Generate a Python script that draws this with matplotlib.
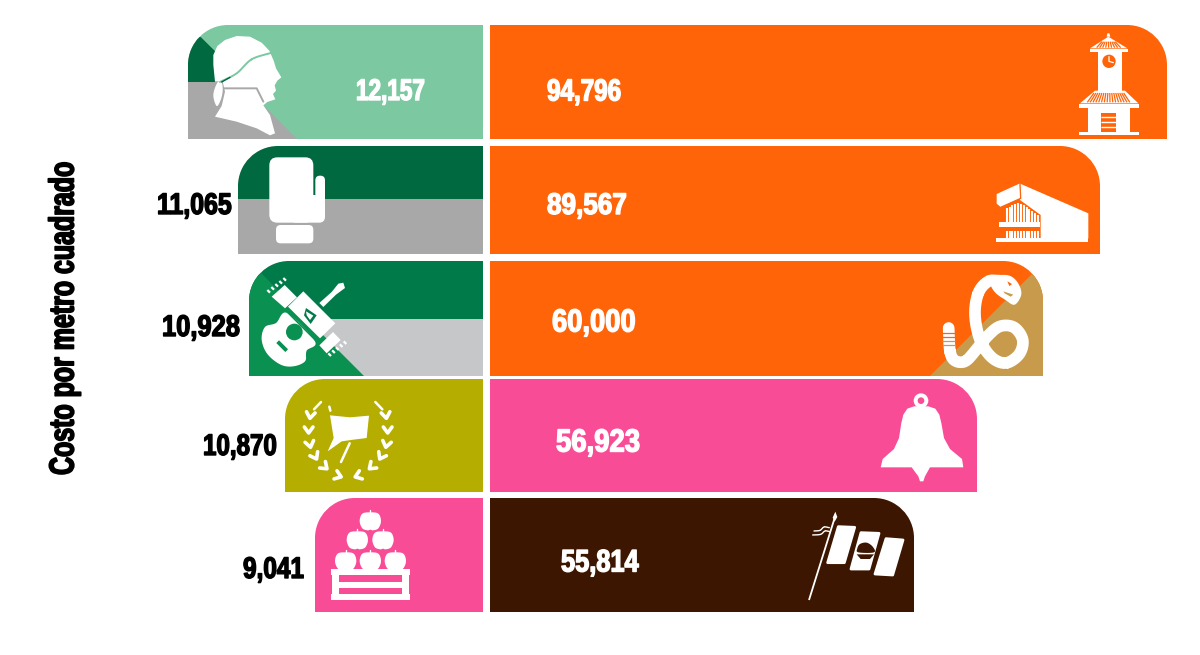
import numpy as np
import matplotlib
matplotlib.use("Agg")
import matplotlib.pyplot as plt
import matplotlib.patheffects as pe
from matplotlib.patches import Polygon, Circle, PathPatch, FancyBboxPatch
from matplotlib.path import Path
from matplotlib.transforms import Affine2D

# Values shown on each side of the infographic
left_values = [12157, 11065, 10928, 10870, 9041]
right_values = [94796, 89567, 60000, 56923, 55814]
axis_title = "Costo por metro cuadrado"

# Colours
GREEN_LIGHT = "#7BC8A1"
GREEN_DARK = "#00693F"
GREEN_MID = "#007A49"
GREEN_BRIGHT = "#0A9050"
GRAY = "#A8A8A8"
GRAY_LIGHT = "#C6C7C9"
OLIVE = "#B5AE00"
PINK = "#F94C96"
ORANGE = "#FF6408"
TAN = "#C89B4C"
BROWN = "#3C1600"
left_colors = [GREEN_LIGHT, GREEN_DARK, GREEN_MID, OLIVE, PINK]
right_colors = [ORANGE, ORANGE, ORANGE, PINK, BROWN]

# Layout: row centres and heights, and the compressed value scales of both sides
row_centers = [82, 200, 318.5, 435.5, 555]
row_heights = [114, 108, 115, 113, 114]
left_scale_values = [0, 9041, 10870, 10928, 11065, 12157, 20000]
left_scale_px = [0, 168, 198, 234, 245, 295, 483]
right_scale_values = [0, 55814, 56923, 60000, 89567, 94796, 120000]
right_scale_px = [0, 424, 487, 553, 610, 677, 710]

W, H = 1200, 655
fig = plt.figure(figsize=(W / 100, H / 100), dpi=100, facecolor="white")


def side_axes(x0, x1, knots_v, knots_p):
    ax = fig.add_axes([x0 / W, 0, (x1 - x0) / W, 1], zorder=0)
    ax.set_xscale("function", functions=(
        lambda v: np.interp(v, knots_v, knots_p),
        lambda p: np.interp(p, knots_p, knots_v)))
    ax.set_ylim(H, 0)
    ax.axis("off")
    return ax


ax_left = side_axes(0, 483, left_scale_values, left_scale_px)
ax_right = side_axes(490, 1200, right_scale_values, right_scale_px)
left_bars = ax_left.barh(row_centers, left_values, height=row_heights, color=left_colors, lw=0)
right_bars = ax_right.barh(row_centers, right_values, height=row_heights, color=right_colors, lw=0)
ax_left.set_xlim(left_scale_values[-1], 0)
ax_right.set_xlim(0, right_scale_values[-1])

# Full-figure layer addressed in pixels for shapes, icons and labels
px = fig.add_axes([0, 0, 1, 1], zorder=1)
px.set_xlim(0, W)
px.set_ylim(H, 0)
px.axis("off")
px.patch.set_alpha(0)


def rounded_shape(bar, side, r=40):
    """Bar outline with its outer top corner rounded, in pixel units."""
    bb = bar.get_window_extent()
    x0, x1 = bb.x0, bb.x1
    top, bot = H - bb.y1, H - bb.y0
    k = 0.5523 * r
    if side == "left":
        verts = [(x1, top), (x1, bot), (x0, bot), (x0, top + r),
                 (x0, top + r - k), (x0 + r - k, top), (x0 + r, top), (x1, top), (x1, top)]
    else:
        verts = [(x0, top), (x0, bot), (x1, bot), (x1, top + r),
                 (x1, top + r - k), (x1 - r + k, top), (x1 - r, top), (x0, top), (x0, top)]
    codes = [Path.MOVETO, Path.LINETO, Path.LINETO, Path.LINETO,
             Path.CURVE4, Path.CURVE4, Path.CURVE4, Path.LINETO, Path.CLOSEPOLY]
    return PathPatch(Path(verts, codes), transform=px.transData, fc="none", ec="none")


left_clips, right_clips = [], []
for b in left_bars:
    c = rounded_shape(b, "left")
    b.set_clip_path(c)
    left_clips.append(c)
for b in right_bars:
    c = rounded_shape(b, "right")
    b.set_clip_path(c)
    right_clips.append(c)


def band(pts, color, clip):
    p = Polygon(pts, closed=True, fc=color, ec="none", zorder=1)
    px.add_patch(p)
    p.set_clip_path(clip)


# Colour panels behind the icons
band([(180, 82), (240, 82), (298, 140), (180, 140)], GRAY, left_clips[0])
band([(180, 30), (200.7, 37), (225, 61), (225, 82), (180, 82)], GREEN_DARK, left_clips[0])
band([(230, 199), (490, 199), (490, 260), (230, 260)], GRAY, left_clips[1])
band([(240, 319), (490, 319), (490, 380), (240, 380)], GRAY_LIGHT, left_clips[2])
band([(240, 252), (367, 379), (240, 379)], GREEN_BRIGHT, left_clips[2])
band([(1050, 256), (1050, 380), (926, 380)], TAN, right_clips[2])


def zoomed(origin, pts):
    return np.array(pts, float) / 3 + np.array(origin, float)


def catmull(a, b, c, d, ts):
    return [0.5 * (2 * b + (c - a) * t + (2 * a - 5 * b + 4 * c - d) * t ** 2
                   + (3 * b - a - 3 * c + d) * t ** 3) for t in ts]


def spline(pts, n=14):
    """Closed Catmull-Rom curve through the given points."""
    p = np.asarray(pts, float)
    out = []
    for i in range(len(p)):
        out += catmull(p[i - 1], p[i], p[(i + 1) % len(p)], p[(i + 2) % len(p)],
                       np.linspace(0, 1, n, endpoint=False))
    return np.array(out)


def open_spline(pts, n=14):
    p = np.asarray(pts, float)
    p = np.vstack([2 * p[0] - p[1], p, 2 * p[-1] - p[-2]])
    out = []
    for i in range(1, len(p) - 2):
        out += catmull(p[i - 1], p[i], p[i + 1], p[i + 2], np.linspace(0, 1, n))
    return np.array(out)


def shape(origin, pts, color="white", smooth=False, z=3, edge=0):
    v = zoomed(origin, pts)
    if smooth:
        v = spline(v)
    px.add_patch(Polygon(v, closed=True, fc=color, ec=color if edge else "none",
                         lw=edge, joinstyle="round", zorder=z))


def stroke(origin, pts, color="white", lw=1.5, smooth=False, z=3, cap="round"):
    v = zoomed(origin, pts)
    if smooth:
        v = open_spline(v)
    px.plot(v[:, 0], v[:, 1], color=color, lw=lw, solid_capstyle=cap,
            solid_joinstyle="round", zorder=z)


def rbox(origin, x0, y0, x1, y1, r, color="white", z=3):
    (a, b), (c, d) = zoomed(origin, [(x0, y0), (x1, y1)])
    r = r / 3
    px.add_patch(FancyBboxPatch((a + r, b + r), c - a - 2 * r, d - b - 2 * r,
                                boxstyle=f"round,pad={r},rounding_size={r}",
                                fc=color, ec="none", zorder=z))


def disc(origin, x, y, r, color="white", z=3):
    (a, b), = zoomed(origin, [(x, y)])
    px.add_patch(Circle((a, b), r / 3, fc=color, ec="none", zorder=z))


# Profile with cap
o = (180, 20)
shape(o, [(100, 135), (100, 105), (112, 78), (135, 60), (170, 48), (210, 50), (245, 68),
          (268, 92), (281, 122), (288, 145), (304, 172), (292, 182), (284, 196), (288, 212),
          (279, 222), (286, 238), (262, 246), (250, 256), (270, 285), (285, 340), (270, 346),
          (230, 325), (170, 305), (105, 290), (125, 258), (135, 215), (128, 185), (105, 185)])
shape(o, [(112, 188), (100, 225), (110, 258), (122, 240), (128, 212), (125, 188)], smooth=True)
stroke(o, [(120, 186), (170, 160), (215, 118), (275, 98)], GREEN_LIGHT, 1.4, smooth=True, z=4)
stroke(o, [(125, 186), (150, 172)], GREEN_DARK, 1.0, z=4)
stroke(o, [(132, 205), (230, 205), (250, 245)], GRAY, 1.4, z=4)

# Boxing glove
o = (150, 140)
rbox(o, 358, 52, 490, 248, 24)
rbox(o, 420, 165, 525, 248, 18)
rbox(o, 496, 107, 525, 240, 14)
rbox(o, 378, 255, 490, 310, 14)

# Guitar and case
o = (150, 258)
shape(o, [(335, 245), (345, 207), (378, 195), (412, 165), (495, 250), (470, 278), (465, 310),
          (430, 325), (392, 320), (352, 288)], smooth=True)
disc(o, 433, 222, 25, GREEN_BRIGHT, z=4)
stroke(o, [(383, 251), (410, 278)], GREEN_BRIGHT, 2.8, z=4, cap="butt")
shape(o, [(414, 146), (460, 100), (556, 196), (510, 241)], z=5)
stroke(o, [(408, 158), (500, 250)], GREEN_BRIGHT, 1.2, z=5, cap="butt")
shape(o, [(468, 150), (500, 172), (482, 198), (462, 172)], GREEN_MID, z=6)
shape(o, [(468, 160), (490, 173), (480, 186), (470, 172)], "white", z=7)
shape(o, [(365, 116), (404, 81), (441, 118), (405, 151)])
shape(o, [(508, 262), (549, 222), (572, 246), (530, 286)])
shape(o, [(508, 135), (520, 147), (558, 110), (585, 90), (580, 74), (565, 77), (545, 102)])
for s in np.linspace(0, 1, 5):
    x, y = 352 + s * 48, 96 - s * 36
    stroke(o, [(x, y), (x + 8, y + 8)], "white", 1.6, cap="butt")
    x, y = 535 + s * 46, 290 - s * 36
    stroke(o, [(x, y - 4), (x + 8, y + 4)], "white", 1.6, cap="butt")

# Flag inside a laurel wreath
o = (190, 378)
shape(o, [(420, 112), (480, 118), (537, 113), (530, 180), (490, 185), (455, 190), (413, 220), (431, 180)])
stroke(o, [(418, 86), (421, 98)], lw=1.8)
stroke(o, [(479, 196), (453, 252)], lw=1.8)
laurel_left = [(361, 113, 8), (356, 157, 0), (360, 200, -12), (376, 236, -28), (405, 267, -48), (446, 294, -70)]
for cx, cy, ang in laurel_left:
    for mirror in (1, -1):
        a = np.deg2rad(ang)
        rel = np.array([[-13, -10], [0, 8], [13, -10]], float)
        rot = np.array([[np.cos(a), -np.sin(a)], [np.sin(a), np.cos(a)]])
        pts = rel @ rot.T + [cx, cy]
        if mirror < 0:
            pts[:, 0] = 949 - pts[:, 0]
        stroke(o, pts, lw=2.6)
stroke(o, [(372, 94), (393, 72)], lw=1.8)
stroke(o, [(577, 94), (556, 72)], lw=1.8)

# Apple crate
o = (230, 495)
for cx, cy in [(421, 78), (382, 135), (459, 135), (347, 198), (421, 198), (496, 198)]:
    shape(o, [(cx - 32, cy), (cx - 24, cy - 22), (cx, cy - 26), (cx + 24, cy - 22), (cx + 32, cy),
              (cx + 24, cy + 22), (cx + 8, cy + 28), (cx, cy + 26), (cx - 8, cy + 28), (cx - 24, cy + 22)],
          smooth=True)
    stroke(o, [(cx, cy - 22), (cx, cy - 32)], lw=1.0)
shape(o, [(303, 222), (540, 222), (540, 240), (536, 240), (536, 298), (540, 298), (540, 316),
          (303, 316), (303, 298), (307, 298), (307, 240), (303, 240)])
shape(o, [(328, 240), (515, 240), (515, 260), (328, 260)], PINK, z=4)
shape(o, [(328, 278), (515, 278), (515, 297), (328, 297)], PINK, z=4)

# Clock tower
o = (1050, 20)
shape(o, [(170, 50), (172, 40), (178, 40), (181, 50)])
shape(o, [(175, 50), (232, 85), (120, 85)])
for x in np.arange(140, 218, 9):
    stroke(o, [(x, 83), (x + (175 - x) * 0.45, 65)], ORANGE, 0.9, z=4, cap="butt")
shape(o, [(120, 86), (235, 86), (235, 96), (120, 96)])
shape(o, [(143, 96), (215, 96), (215, 215), (143, 215)])
disc(o, 177, 124, 20, ORANGE, z=4)
stroke(o, [(177, 110), (177, 124), (190, 128)], "white", 0.9, z=5)
shape(o, [(135, 212), (225, 212), (265, 250), (90, 250)])
for x in np.arange(112, 246, 8.5):
    stroke(o, [(x, 247), (x + (178 - x) * 0.3, 219)], ORANGE, 0.9, z=4, cap="butt")
shape(o, [(88, 253), (268, 253), (268, 265), (88, 265)])
shape(o, [(115, 265), (240, 265), (240, 336), (115, 336)])
shape(o, [(88, 336), (268, 336), (268, 345), (88, 345)])
shape(o, [(153, 278), (197, 278), (197, 336), (153, 336)], ORANGE, z=4)
for y in (292, 307, 321):
    stroke(o, [(153, y), (197, y)], "white", 1.0, z=5, cap="butt")

# Auditorium
o = (980, 145)
shape(o, [(118, 115), (325, 205), (325, 280), (182, 280), (182, 210), (120, 165)])
shape(o, [(50, 147), (118, 116), (122, 160), (62, 186), (50, 176)])
stroke(o, [(120, 113), (122, 160), (62, 187)], ORANGE, 0.9, z=4, cap="butt")
shape(o, [(48, 280), (325, 280), (325, 291), (48, 291)])
shape(o, [(58, 232), (180, 232), (180, 246), (58, 246)])
for x, top in zip(np.arange(80, 180, 8.5),
                  [190, 185, 180, 176, 174, 176, 181, 186, 192, 198, 204, 210]):
    stroke(o, [(x, top), (x, 231)], lw=1.5, cap="butt")
    stroke(o, [(x, 258), (x, 278)], lw=1.5, cap="butt")

# Rattlesnake
o = (920, 258)
stroke(o, [(240, 68), (205, 70), (175, 105), (165, 170), (180, 245), (215, 298), (258, 315),
           (298, 288), (308, 245), (282, 208), (240, 205), (202, 235), (165, 280), (135, 310),
           (105, 308), (90, 280), (86, 210)], lw=8.4, smooth=True)
shape(o, [(212, 78), (225, 55), (265, 52), (292, 72), (304, 108), (284, 140), (255, 125), (226, 104)], smooth=True)
shape(o, [(262, 70), (276, 78), (268, 84)], ORANGE, z=4)
shape(o, [(250, 100), (280, 110), (272, 116), (254, 106)], TAN, z=4)
for y in (226, 238, 250, 262):
    stroke(o, [(66, y), (106, y)], ORANGE if y < 240 else TAN, 0.9, z=4, cap="butt")

# Bell
o = (870, 378)
disc(o, 153, 68, 22)
disc(o, 153, 68, 10, PINK, z=4)
shape(o, [(132, 85), (112, 92), (100, 110), (94, 135), (87, 180), (72, 213), (38, 243), (32, 268),
          (125, 268), (145, 295), (150, 310), (160, 310), (165, 295), (180, 268), (280, 268),
          (276, 243), (240, 213), (222, 180), (214, 135), (208, 110), (196, 92), (175, 85)])

# Flag on a pole
o = (800, 495)
shape(o, [(115, 95), (164, 97), (133, 203), (83, 203)], edge=2)
shape(o, [(183, 113), (237, 115), (207, 222), (153, 222)], edge=2)
shape(o, [(258, 131), (309, 135), (278, 240), (225, 237)], edge=2)
shape(o, [(172, 160), (180, 147), (200, 143), (218, 155), (222, 172), (175, 172)], BROWN, smooth=True, z=4)
shape(o, [(170, 178), (222, 178), (210, 192), (182, 192)], BROWN, z=4)
stroke(o, [(103, 72), (27, 315)], lw=1.3, cap="butt")
shape(o, [(106, 50), (112, 66), (104, 80), (98, 68)])
stroke(o, [(38, 120), (62, 118), (75, 108), (90, 110)], lw=1.0, smooth=True)
stroke(o, [(42, 108), (60, 106), (72, 96), (88, 98)], lw=1.0, smooth=True)


class Condensed(pe.AbstractPathEffect):
    """Draws text squeezed about a point, with a heavier outline for a display-face look."""

    def __init__(self, sx, sy, cx, cy, color, weight):
        super().__init__()
        self.sx, self.sy, self.cx, self.cy = sx, sy, cx, cy
        self.color, self.weight = color, weight

    def draw_path(self, renderer, gc, tpath, affine, rgbFace=None):
        squeeze = (Affine2D().translate(-self.cx, -self.cy)
                   .scale(self.sx, self.sy).translate(self.cx, self.cy))
        gc0 = renderer.new_gc()
        gc0.copy_properties(gc)
        gc0.set_linewidth(self.weight)
        gc0.set_foreground(self.color)
        renderer.draw_path(gc0, tpath, affine + squeeze, rgbFace)
        gc0.restore()


# Value labels: (centre x, baseline y, text width in pixels, font size)
left_labels = [(390.5, 100, 69, 21.5), (194.5, 214, 75, 21.5), (201, 336, 78, 21.5),
               (240, 455, 74, 21.5), (273.5, 578, 61, 21.5)]
right_labels = [(584, 100.5, 74, 22), (587, 214, 80, 21.5), (594, 331.5, 84, 23),
                (598, 451.5, 84, 23), (600, 571.5, 78, 22.5)]
left_label_colors = ["white", "black", "black", "black", "black"]
right_label_colors = ["white"] * 5

FAMILY = ["Liberation Sans", "DejaVu Sans"]
renderer = fig.canvas.get_renderer()


def label(layout, value, color):
    x, y, width, size = layout
    t = px.text(x, y, f"{value:,}", color=color, fontsize=size, family=FAMILY, fontweight="bold",
                ha="center", va="baseline", zorder=6)
    sx = width / t.get_window_extent(renderer).width
    t.set_path_effects([Condensed(sx, 1, x, H - y, color, 1.0)])


for v, lay, c in zip(left_values, left_labels, left_label_colors):
    label(lay, v, c)
for v, lay, c in zip(right_values, right_labels, right_label_colors):
    label(lay, v, c)

title = px.text(64, 318.5, axis_title, rotation=90, color="black", fontsize=25, family=FAMILY,
                fontweight="bold", ha="center", va="center", zorder=6)
sy = 313 / title.get_window_extent(renderer).height
title.set_path_effects([Condensed(1, sy, 64, H - 318.5, "black", 1.2)])

fig.savefig("out.png", dpi=100, facecolor="white")
